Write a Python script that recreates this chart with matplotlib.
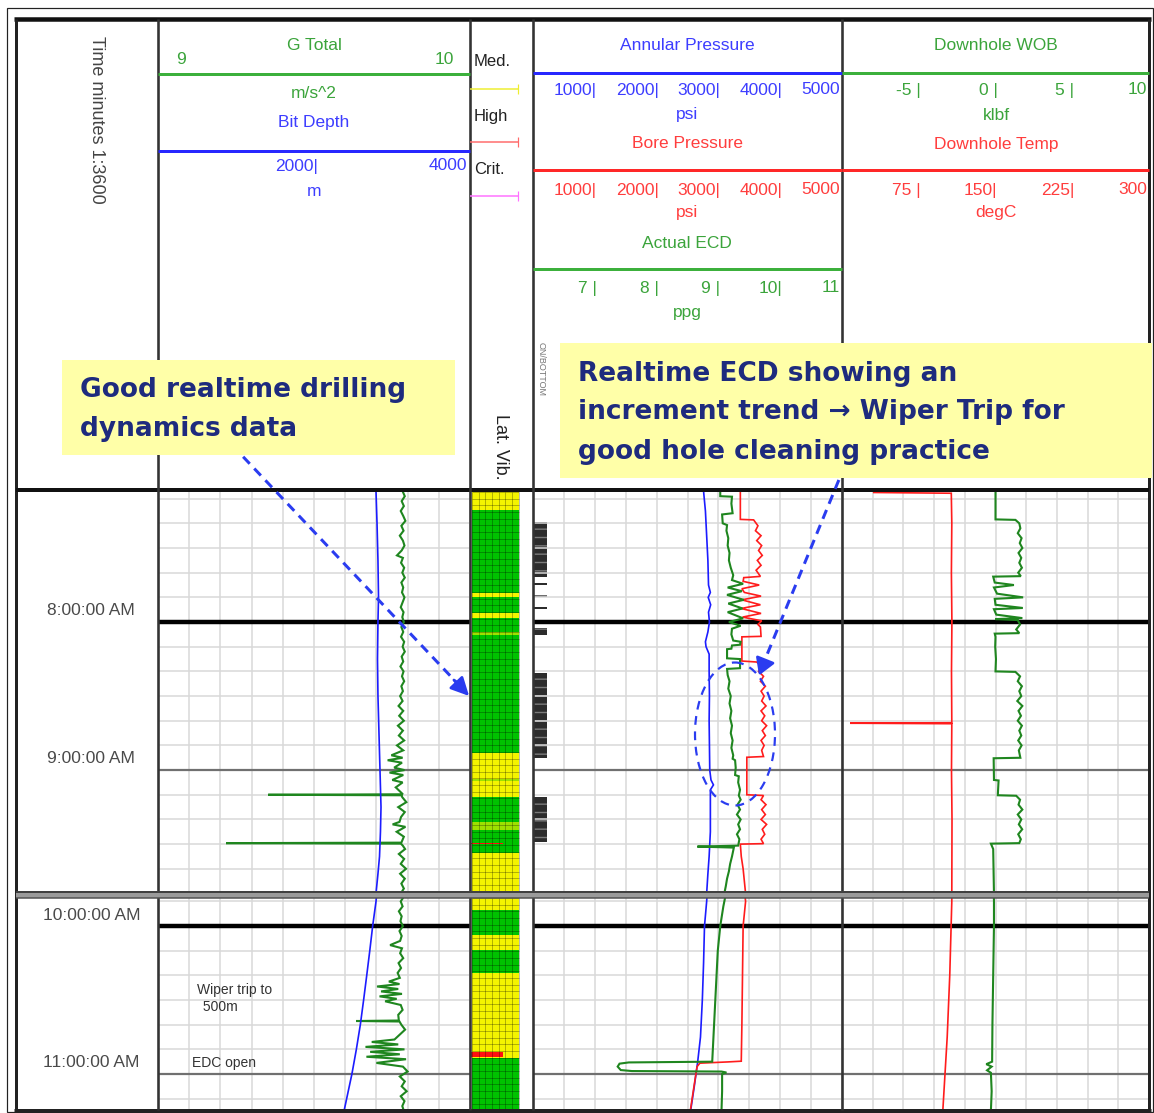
import numpy as np
import matplotlib.pyplot as plt
from matplotlib.patches import Rectangle, Ellipse
from matplotlib.transforms import blended_transform_factory

plt.rcParams['font.family'] = ['Liberation Sans', 'DejaVu Sans']

# time is in minutes after 7:00 AM
HOURS = [60, 120, 180, 240]
HOUR_LABELS = ['8:00:00 AM', '9:00:00 AM', '10:00:00 AM', '11:00:00 AM']

# track 1: G Total (m/s^2) and Bit Depth (m)
gtotal = [
    (7, 9.784), (9, 9.791), (11, 9.781), (13, 9.788), (15, 9.778), (17, 9.786), (19, 9.793), (21, 9.780),
    (23, 9.787), (25, 9.775), (27, 9.785), (29, 9.790), (31, 9.781), (33, 9.766), (34, 9.785), (36, 9.779),
    (38, 9.789), (40, 9.783), (42, 9.791), (44, 9.780), (46, 9.786), (48, 9.782), (50, 9.790), (52, 9.784),
    (54, 9.778), (56, 9.787), (58, 9.783), (60, 9.788), (62, 9.780), (64, 9.786), (66, 9.779), (68, 9.789),
    (70, 9.784), (72, 9.791), (74, 9.781), (76, 9.786), (78, 9.777), (80, 9.787), (82, 9.782), (84, 9.789),
    (86, 9.780), (88, 9.785), (90, 9.776), (92, 9.784), (94, 9.771), (96, 9.786), (98, 9.773), (100, 9.788),
    (102, 9.769), (104, 9.785), (106, 9.772), (108, 9.789), (110, 9.766), (112, 9.786), (114, 9.748), (115, 9.784),
    (116, 9.736), (117, 9.782), (119, 9.757), (120, 9.790), (121, 9.742), (122, 9.786), (124, 9.751), (125, 9.784),
    (127, 9.762), (129.8, 9.785), (130, 9.353), (130.2, 9.780), (131, 9.783), (133, 9.796), (135, 9.770),
    (137, 9.791), (139, 9.779), (141, 9.774), (142, 9.752), (143, 9.793), (145, 9.765), (147, 9.788),
    (149.4, 9.780), (149.6, 9.218), (149.8, 9.778), (150.5, 9.784), (152, 9.792), (154, 9.772), (156, 9.789),
    (158, 9.778), (160, 9.795), (162, 9.776), (164, 9.791), (166, 9.780), (168, 9.788), (170, 9.778),
    (172, 9.784), (174, 9.772), (176, 9.781), (178, 9.777), (180, 9.785), (182, 9.774), (184, 9.781),
    (186, 9.776), (187.7, 9.744), (189, 9.782), (191, 9.776), (193, 9.786), (195, 9.771), (197, 9.779),
    (199, 9.768), (201, 9.775), (202.5, 9.740), (203.5, 9.774), (204.5, 9.702), (205.5, 9.770), (206.5, 9.715),
    (207.5, 9.782), (208.5, 9.710), (209.5, 9.765), (210.5, 9.728), (212, 9.778), (214, 9.784), (216, 9.770),
    (218.3, 9.772), (218.5, 9.635), (218.7, 9.774), (220, 9.780), (222, 9.792), (224, 9.775), (226, 9.758),
    (227, 9.685), (228, 9.770), (229, 9.665), (230, 9.790), (231, 9.680), (232, 9.775), (233, 9.668),
    (234, 9.795), (235.5, 9.700), (237, 9.785), (239, 9.800), (241, 9.775), (243, 9.791), (245, 9.781),
    (247, 9.797), (249, 9.778), (251, 9.790), (253, 9.783), (255, 9.788),
]
bitdepth = [
    (7, 2795), (20, 2808), (35, 2820), (50, 2827), (60, 2820), (75, 2814), (90, 2820), (105, 2833),
    (120, 2846), (135, 2859), (145, 2852), (155, 2840), (162, 2820), (170, 2795), (180, 2752), (190, 2715),
    (200, 2676), (210, 2636), (220, 2594), (230, 2543), (240, 2486), (255, 2385),
]

# track 2: Annular / Bore pressure (psi) and Actual ECD (ppg)
annular = [
    (7, 2760), (15, 2790), (25, 2810), (35, 2830), (45, 2840), (48, 2870), (50, 2835), (53, 2875),
    (56, 2840), (60, 2855), (64, 2830), (68, 2790), (70, 2800), (73, 2850), (80, 2850), (90, 2855),
    (100, 2850), (110, 2855), (120, 2860), (124, 2880), (126, 2920), (128, 2870), (135, 2870), (145, 2870),
    (155, 2850), (162, 2830), (170, 2810), (180, 2775), (195, 2760), (210, 2740), (225, 2710), (235, 2665),
    (245, 2610), (255, 2550),
]
bore = [
    (7, 3355), (18.4, 3355), (18.6, 3570), (21, 3640), (23, 3600), (25, 3690), (27, 3620), (29, 3700),
    (31, 3650), (33, 3710), (35, 3630), (37, 3690), (39, 3610), (41.5, 3680), (42, 3410), (43.5, 3400),
    (45, 3660), (46.5, 3380), (48, 3420), (49.5, 3690), (51, 3380), (53, 3680), (54.5, 3370), (56.5, 3690),
    (58, 3390), (59.5, 3700), (61, 3640), (62, 3680), (65.8, 3690), (66, 3380), (75.8, 3380), (76.2, 3620),
    (78, 3700), (80, 3650), (82, 3730), (84, 3680), (86, 3760), (88, 3690), (90, 3740), (92, 3700),
    (94, 3770), (96, 3690), (98, 3750), (100, 3700), (102, 3780), (104, 3710), (106, 3760), (108, 3690),
    (110, 3740), (112, 3700), (114.5, 3730), (114.8, 3460), (130, 3460), (130.3, 3730), (132, 3690),
    (134, 3770), (136, 3700), (138, 3760), (140, 3690), (142, 3780), (144, 3710), (146, 3750), (148, 3690),
    (149.8, 3730), (150, 3355), (155, 3370), (160, 3400), (165, 3420), (170, 3440), (180, 3400),
    (200, 3390), (220, 3380), (234.8, 3370), (235.1, 3150), (235.6, 2700), (237, 2655), (245, 2605),
    (255, 2545),
]
ecd = [
    (7, 9.03), (9.0, 9.03), (9.2, 9.22), (12, 9.21), (15.9, 9.23), (16.4, 9.06), (20, 9.07), (20.7, 9.14),
    (23, 9.13), (26, 9.16), (29, 9.15), (32, 9.18), (35, 9.17), (38, 9.20), (41, 9.24), (43, 9.22),
    (44.5, 9.40), (46, 9.15), (47.5, 9.38), (49, 9.14), (51, 9.41), (52.5, 9.16), (54.5, 9.39), (56, 9.15),
    (58.5, 9.40), (60, 9.17), (61.5, 9.36), (62.7, 9.22), (65, 9.21), (67.5, 9.24), (68, 9.36), (69.2, 9.35),
    (69.5, 9.22), (70.8, 9.21), (71, 9.14), (74.7, 9.14), (75, 9.35), (78.7, 9.35), (79, 9.14), (81.5, 9.15),
    (84, 9.18), (87, 9.16), (90, 9.20), (93, 9.18), (96, 9.21), (99, 9.19), (102, 9.22), (105, 9.20),
    (108, 9.23), (111, 9.21), (114, 9.24), (115.4, 9.23), (116, 9.27), (119, 9.28), (122, 9.27), (122.5, 9.33),
    (125, 9.32), (128, 9.35), (130.3, 9.33), (132, 9.36), (134, 9.31), (136, 9.35), (138, 9.30), (140, 9.36),
    (142, 9.32), (144, 9.35), (146, 9.30), (148, 9.34), (150.6, 9.32), (151.0, 8.66), (151.4, 9.25),
    (155, 9.22), (158, 9.19), (161, 9.17), (164, 9.14), (167, 9.12), (172, 9.08), (180, 9.03), (190, 8.99),
    (200, 8.97), (210, 8.95), (220, 8.93), (230, 8.91), (235.0, 8.90), (235.3, 7.55), (235.8, 7.40),
    (237.0, 7.37), (238.4, 7.42), (238.8, 7.60), (239.0, 9.05), (239.4, 9.13), (240, 9.06), (247, 9.06),
    (255, 9.05),
]
# rotating / on-bottom flag intervals in track 2
flag_start = [19.5, 44.0, 49.0, 54.1, 59.0, 62.4, 80.7, 130.9]
flag_end = [41.8, 44.8, 49.8, 54.9, 59.8, 65.3, 115.1, 149.2]

# track 3: Downhole WOB (klbf) and Downhole Temp (degC)
wob = [
    (7, 0.0), (18.4, 0.0), (18.6, 1.30), (20, 1.55), (22, 1.62), (24, 1.45), (26, 1.70), (28, 1.58),
    (30, 1.75), (32, 1.50), (34, 1.68), (36, 1.55), (38, 1.72), (40, 1.48), (41.4, 1.65), (41.6, -0.15),
    (44, -0.05), (45, 1.2), (46, -0.1), (48.5, 0.1), (50, 1.8), (50.6, -0.05), (53, 0.0), (54.3, 1.78),
    (54.8, -0.1), (57, 0.05), (58.4, 1.75), (58.8, 0.0), (59.2, 1.45), (61, 1.6), (63, 1.35), (64.5, 1.55),
    (64.7, -0.05), (66, 0.0), (70, -0.02), (75, 0.03), (80, 0.0), (80.2, 1.3), (82, 1.6), (84, 1.45),
    (86, 1.72), (88, 1.55), (90, 1.68), (92, 1.42), (94, 1.75), (96, 1.5), (98, 1.66), (100, 1.45),
    (102, 1.72), (104, 1.55), (106, 1.68), (108, 1.48), (110, 1.7), (112, 1.52), (115, 1.62), (115.2, -0.12),
    (124, -0.1), (124.2, 0.2), (130.2, 0.15), (130.4, 1.35), (132, 1.6), (134, 1.5), (136, 1.75),
    (138, 1.45), (140, 1.68), (142, 1.52), (144, 1.74), (146, 1.48), (148, 1.65), (149.6, 1.55),
    (149.8, -0.3), (152, -0.15), (170, -0.1), (180, -0.1), (200, -0.15), (220, -0.2), (235, -0.22),
    (236, -0.6), (237, -0.25), (238.5, -0.55), (239.5, -0.3), (247, -0.25), (255, -0.3),
]
temp = [
    (7.5, 31.0), (7.8, 106.8), (20, 107.3), (40, 106.9), (60, 107.4), (80, 107.0), (100.8, 107.3),
    (101, 8.0), (101.2, 107.3), (120, 107.0), (140, 107.5), (170, 107.3), (200, 105.3), (225, 102.8),
    (255, 98.5),
]

# lateral vibration strip: G = low, L = low/medium, Y = medium
vib_start = [7.3, 14.6, 48.2, 49.9, 56.4, 58.4, 64.1, 65.3, 113.1, 123.5, 124.5, 130.9, 141.1, 144.3,
             153.6, 173.5, 183.6, 189.7, 199.1, 233.5]
vib_end = [14.6, 48.2, 49.9, 56.4, 58.4, 64.1, 65.3, 113.1, 123.5, 124.5, 130.9, 141.1, 144.3, 153.6,
           173.5, 183.6, 189.7, 199.1, 233.5, 256]
vib_level = ['Y', 'G', 'Y', 'G', 'Y', 'G', 'L', 'G', 'Y', 'L', 'Y', 'G', 'L', 'G',
             'Y', 'G', 'Y', 'G', 'Y', 'G']
vib_red_t = [149.4, 231.1]
vib_red_h = [0.5, 2.0]

VIB_COLORS = {'G': '#00c200', 'L': '#9ee000', 'Y': '#f4f400'}

W, H = 1154, 1113
PX = 0.72  # points per pixel at 100 dpi
fig = plt.figure(figsize=(W / 100, H / 100), dpi=100)

# pixel rows of the two log sections and the time shown in each
SECTIONS = [(492, 892, 7.3, 169.4), (898, 1110, 168.6, 254.6)]

TXT_G, TXT_B, TXT_R = '#3ba43b', '#3d3dff', '#ff3d3d'
LN_G, LN_B, LN_R = '#3cb03c', '#2828ff', '#ff2828'
CV_G, CV_B, CV_R = '#1f861f', '#1c1cff', '#ff1c1c'
NOTE = '#2a3cf0'


def px_axes(x0, y0, x1, y1, **kw):
    return fig.add_axes([x0 / W, 1 - y1 / H, (x1 - x0) / W, (y1 - y0) / H], **kw)


def track(x0, x1, y0, y1, t0, t1, xlim):
    ax = px_axes(x0, y0, x1, y1)
    ax.set_xticks(np.linspace(xlim[0], xlim[1], 11))
    ax.set_yticks([t for t in range(0, 260, 10) if t0 <= t <= t1])
    ax.set_xlim(*xlim)
    ax.set_ylim(t1, t0)
    ax.grid(True, color='#d8d8d8', lw=1.1)
    ax.tick_params(length=0, labelbottom=False, labelleft=False)
    for s in ax.spines.values():
        s.set_visible(False)
    for h in HOURS:
        if h in (60, 180):
            ax.axhline(h, color='black', lw=3.2)
        else:
            ax.axhline(h, color='#707070', lw=1.6)
    return ax


def twin(ax, xlim):
    tw = ax.twiny()
    tw.set_xlim(*xlim)
    tw.axis('off')
    return tw


def curve(ax, data, color, lw):
    t, v = zip(*data)
    ax.plot(v, t, color=color, lw=lw, solid_joinstyle='miter')


for (y0, y1, t0, t1) in SECTIONS:
    # time column
    at = px_axes(16, y0, 158, y1)
    at.set_xlim(0, 1)
    at.set_ylim(t1, t0)
    at.axis('off')
    tr = blended_transform_factory(at.transAxes, at.transData)
    for h, lab in zip(HOURS, HOUR_LABELS):
        if t0 < h - 4.5 < t1:
            at.text(0.53, h - 4.5, lab, transform=tr, ha='center', va='center',
                    fontsize=12.5, color='#4a4a4a')

    # track 1
    a1 = track(158, 470, y0, y1, t0, t1, (9, 10))
    curve(twin(a1, (0, 4000)), bitdepth, CV_B, 1.2)
    curve(a1, gtotal, CV_G, 1.5)

    # lateral vibration strip
    av = px_axes(470, y0, 533, y1)
    av.set_xlim(0, 1)
    av.set_ylim(t1, t0)
    av.axis('off')
    for s, e, lev in zip(vib_start, vib_end, vib_level):
        av.barh(s, 0.74, height=e - s, left=0.03, align='edge', color=VIB_COLORS[lev], lw=0)
    av.vlines(np.linspace(0.03, 0.77, 8), t0, t1, colors='black', alpha=0.28, lw=0.7)
    av.hlines(np.arange(t0, t1, 2.7), 0.03, 0.77, colors='black', alpha=0.28, lw=0.7)
    for rt, rh in zip(vib_red_t, vib_red_h):
        av.barh(rt, 0.52, height=rh, left=0.0, align='edge', color='#ff1010', lw=0)

    # track 2
    a2 = track(533, 842, y0, y1, t0, t1, (0, 5000))
    ytr = a2.get_yaxis_transform()
    for s, e in zip(flag_start, flag_end):
        if s < t1:
            a2.add_patch(Rectangle((0.0, s), 0.045, e - s, transform=ytr, facecolor='#2c2c2c',
                                   edgecolor='#7a7a7a', hatch='--', lw=0))
    curve(a2, annular, CV_B, 1.2)
    curve(twin(a2, (6, 11)), ecd, CV_G, 1.5)
    curve(a2, bore, CV_R, 1.2)

    # track 3
    a3 = track(842, 1149, y0, y1, t0, t1, (-10, 10))
    curve(twin(a3, (0, 300)), temp, CV_R, 1.2)
    curve(a3, wob, CV_G, 1.5)

# overlay in pixel coordinates for frame, header and notes
ov = fig.add_axes([0, 0, 1, 1], zorder=10)
ov.set_xlim(0, W)
ov.set_ylim(H, 0)
ov.axis('off')
ov.patch.set_alpha(0)


def seg(x0, y0, x1, y1, c, w, z=3, **kw):
    ov.plot([x0, x1], [y0, y1], color=c, lw=w * PX, solid_capstyle='butt', zorder=z, **kw)


def txt(x, y, s, c, ha='center', size=12.5, **kw):
    ov.text(x, y, s, color=c, ha=ha, va='center', fontsize=size, **kw)


# frame
ov.add_patch(Rectangle((7, 8), 1146, 1104, fill=False, edgecolor='#222', lw=1.2 * PX))
seg(14, 19, 1151, 19, '#111', 4.5)
seg(16, 19, 16, 1111, '#222', 3)
seg(1149, 19, 1149, 1111, '#222', 3)
seg(14, 1110, 1151, 1110, '#222', 3)
seg(16, 490, 1149, 490, '#111', 4)
for x in (158, 470, 533, 842):
    seg(x, 19, x, 1110, '#333', 2.6)
ov.add_patch(Rectangle((16, 892), 1133, 6, facecolor='#9a9a9a', edgecolor='none', zorder=4))
seg(16, 892, 1149, 892, '#404040', 2, z=4)
seg(16, 898, 1149, 898, '#505050', 1.5, z=4)

# time column header
txt(96, 120, 'Time minutes 1:3600', '#444', rotation=270, size=13)

# track 1 header
txt(314, 46, 'G Total', TXT_G)
txt(176, 60, '9', TXT_G, ha='left')
txt(454, 60, '10', TXT_G, ha='right')
seg(158, 74, 470, 74, LN_G, 3)
txt(314, 94, 'm/s^2', TXT_G)
txt(314, 122, 'Bit Depth', TXT_B)
seg(158, 151, 470, 151, LN_B, 3)
txt(318, 166, '2000|', TXT_B, ha='right')
txt(467, 166, '4000', TXT_B, ha='right')
txt(314, 191, 'm', TXT_B)

# vibration header
txt(474, 61, 'Med.', '#222', ha='left', size=12)
seg(470, 89, 518, 89, '#eeee30', 1.5)
seg(518, 84, 518, 94, '#eeee30', 1.2)
txt(474, 116, 'High', '#222', ha='left', size=12)
seg(470, 142, 518, 142, '#ff6a6a', 1.5)
seg(518, 137, 518, 147, '#ff6a6a', 1.2)
txt(474, 169, 'Crit.', '#222', ha='left', size=12)
seg(470, 196, 518, 196, '#ff70ff', 1.5)
seg(518, 191, 518, 201, '#ff70ff', 1.2)
txt(501, 447, 'Lat. Vib.', '#222', rotation=270, size=13)
txt(541, 369, 'ON/BOTTOM', '#777', rotation=270, size=6.5)

# track 2 header
t2x = np.linspace(533, 842, 6)[1:]
txt(687, 45, 'Annular Pressure', TXT_B)
seg(533, 73, 842, 73, LN_B, 3)
for x, s in zip(t2x, ['1000|', '2000|', '3000|', '4000|', '5000']):
    txt(x + 2 if s.endswith('|') else x - 2, 90, s, TXT_B, ha='right')
txt(687, 115, 'psi', TXT_B)
txt(687, 144, 'Bore Pressure', TXT_R)
seg(533, 170, 842, 170, LN_R, 3)
for x, s in zip(t2x, ['1000|', '2000|', '3000|', '4000|', '5000']):
    txt(x + 2 if s.endswith('|') else x - 2, 190, s, TXT_R, ha='right')
txt(687, 213, 'psi', TXT_R)
txt(687, 243, 'Actual ECD', TXT_G)
seg(533, 269, 842, 269, LN_G, 3)
for x, s in zip(t2x, ['7 |', '8 |', '9 |', '10|', '11']):
    txt(x + 2 if s.endswith('|') else x - 2, 288, s, TXT_G, ha='right')
txt(687, 313, 'ppg', TXT_G)

# track 3 header
t3x = np.linspace(842, 1149, 5)[1:]
txt(996, 45, 'Downhole WOB', TXT_G)
seg(842, 73, 1149, 73, LN_G, 3)
for x, s in zip(t3x, ['-5 |', '0 |', '5 |', '10']):
    txt(x + 2 if s.endswith('|') else x - 2, 90, s, TXT_G, ha='right')
txt(996, 115, 'klbf', TXT_G)
txt(996, 144, 'Downhole Temp', TXT_R)
seg(842, 170, 1149, 170, LN_R, 3)
for x, s in zip(t3x, ['75 |', '150|', '225|', '300']):
    txt(x + 2 if s.endswith('|') else x - 2, 190, s, TXT_R, ha='right')
txt(996, 213, 'degC', TXT_R)

# small notes in the lower section
txt(197, 990, 'Wiper trip to', '#333', ha='left', size=10)
txt(199, 1007, ' 500m', '#333', ha='left', size=10)
txt(192, 1063, 'EDC open', '#333', ha='left', size=10)

# dashed arrows and ellipse
dash = (0, (3.2, 2.2))
ov.plot([232, 458], [445, 684], color=NOTE, lw=3 * PX, ls=dash, zorder=5)
ov.annotate('', xy=(471, 698), xytext=(452, 678),
            arrowprops=dict(arrowstyle='-|>,head_length=1.1,head_width=0.55', color=NOTE, lw=2), zorder=6)
ov.plot([845, 764], [465, 662], color=NOTE, lw=3 * PX, ls=dash, zorder=5)
ov.annotate('', xy=(758, 678), xytext=(766, 658),
            arrowprops=dict(arrowstyle='-|>,head_length=1.0,head_width=0.6', color=NOTE, lw=2), zorder=6)
ov.add_patch(Ellipse((735, 734), 80, 143, fill=False, edgecolor=NOTE, lw=2.2 * PX,
                     ls=(0, (4, 3)), zorder=6))

# yellow note boxes
ov.add_patch(Rectangle((62, 360), 393, 95, facecolor='#ffffa8', edgecolor='none', zorder=7))
ov.add_patch(Rectangle((560, 343), 592, 135, facecolor='#ffffa8', edgecolor='none', zorder=7))
bold = dict(family='DejaVu Sans', fontweight='bold', size=19, zorder=8)
txt(80, 390, 'Good realtime drilling', '#1e2b7e', ha='left', **bold)
txt(80, 429, 'dynamics data', '#1e2b7e', ha='left', **bold)
txt(578, 374, 'Realtime ECD showing an', '#1e2b7e', ha='left', **bold)
txt(578, 412, 'increment trend \u2192 Wiper Trip for', '#1e2b7e', ha='left', **bold)
txt(578, 452, 'good hole cleaning practice', '#1e2b7e', ha='left', **bold)

fig.savefig('out.png', dpi=100)
